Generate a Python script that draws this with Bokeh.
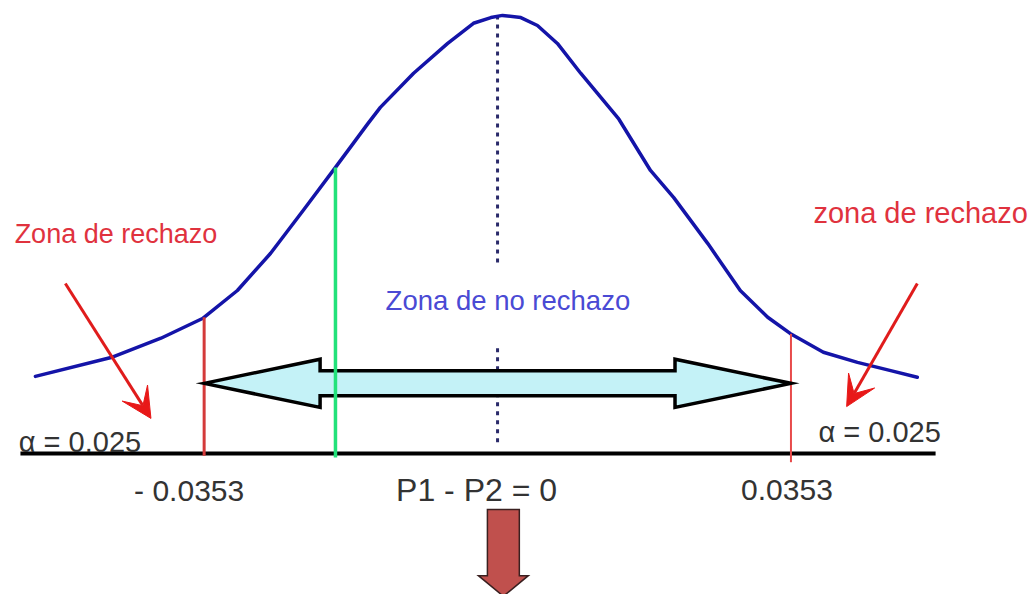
import numpy as np
from bokeh.plotting import figure
from bokeh.models import Range1d, Arrow, VeeHead
from bokeh.core.properties import value
from bokeh.embed import file_html
from bokeh.resources import INLINE

# Sampling distribution of P1 - P2 under H0 (relative height, peak = 1)
curve_x = [-0.0556, -0.0465, -0.0405, -0.0355, -0.0313, -0.0273, -0.0233,
           -0.0195, -0.0156, -0.0141, -0.0101, -0.0060, -0.0029, -0.0008,
           0.0006, 0.0028, 0.0048, 0.0072, 0.0100, 0.0146, 0.0184, 0.0212,
           0.0253, 0.0292, 0.0325, 0.0352, 0.0392, 0.0433, 0.0473, 0.0505]
curve_y = [0.176, 0.219, 0.263, 0.308, 0.372, 0.457, 0.557,
           0.653, 0.753, 0.790, 0.868, 0.936, 0.982, 0.995,
           1.000, 0.995, 0.977, 0.936, 0.868, 0.763, 0.646, 0.584,
           0.479, 0.372, 0.311, 0.274, 0.231, 0.208, 0.189, 0.174]

crit = 0.0353          # critical value of P1 - P2
alpha_tail = 0.025     # area in each rejection tail
observed = -0.0195     # observed difference (green marker)
null_value = 0.0

FONT = value("Liberation Sans")

p = figure(width=1034, height=594, output_backend="svg", toolbar_location=None,
           x_range=Range1d(-0.0598, 0.0646), y_range=Range1d(-0.322, 1.034),
           min_border=0)
p.xaxis.visible = False
p.yaxis.visible = False
p.grid.visible = False
p.outline_line_color = None
p.background_fill_color = "white"
p.border_fill_color = "white"

# centre line of the distribution (dotted), upper and lower pieces
p.line([null_value, null_value], [1.0, 0.436], line_color="#2a2a6a",
       line_width=3, line_dash="4 5")
p.line([null_value, null_value], [0.24, 0.014], line_color="#2a2a6a",
       line_width=3, line_dash="4 5")

# horizontal axis line
p.line([-0.0574, 0.0527], [0, 0], line_color="black", line_width=4)

# density curve
p.line(curve_x, curve_y, line_color="#1414a8", line_width=3.5,
       line_join="round", line_cap="round")

# critical value lines
top_l = float(np.interp(-crit, curve_x, curve_y))
top_r = float(np.interp(crit, curve_x, curve_y))
p.line([-crit, -crit], [top_l, -0.005], line_color="#d43a3a", line_width=3)
p.line([crit, crit], [top_r, -0.02], line_color="#e84a4a", line_width=2)

# double-headed arrow spanning the non-rejection region
ay, head_len, shaft_h, head_h = 0.160, 0.01395, 0.0285, 0.055
ax = [-crit, -crit + head_len, -crit + head_len, crit - head_len, crit - head_len,
      crit, crit - head_len, crit - head_len, -crit + head_len, -crit + head_len]
ayy = [ay, ay + head_h, ay + shaft_h, ay + shaft_h, ay + head_h,
       ay, ay - head_h, ay - shaft_h, ay - shaft_h, ay - head_h]
p.patch(ax, ayy, fill_color="#c4f2f7", line_color="black", line_width=3.5,
        line_join="miter")

# observed value line
top_o = float(np.interp(observed, curve_x, curve_y))
p.line([observed, observed], [top_o, -0.009], line_color="#22e27a", line_width=3.5)

# arrows pointing to the rejection tails
for xs, ys, xe, ye in [(-0.0520, 0.388, -0.0417, 0.080),
                       (0.0505, 0.388, 0.0420, 0.107)]:
    p.add_layout(Arrow(x_start=xs, y_start=ys, x_end=xe, y_end=ye,
                       line_color="#e01c1c", line_width=3,
                       end=VeeHead(size=30, fill_color="#e81818",
                                   line_color="#e81818", line_width=1)))

# labels
p.text([-0.0581], [0.502], text=["Zona de rechazo"], text_font=FONT,
       text_font_size="27px", text_color="#e0323e", text_baseline="alphabetic")
p.text([0.0380], [0.548], text=["zona de rechazo"], text_font=FONT,
       text_font_size="29px", text_color="#e0323e", text_baseline="alphabetic")
p.text([-0.01347], [0.349], text=["Zona de no rechazo"], text_font=FONT,
       text_font_size="27.5px", text_color="#4a4ad4", text_baseline="alphabetic")
p.text([-0.0576], [0.027], text=[f"\u03b1 = {alpha_tail}"], text_font=FONT,
       text_font_size="29px", text_color="#333333", text_baseline="alphabetic")
p.text([0.0386], [0.050], text=[f"\u03b1 = {alpha_tail}"], text_font=FONT,
       text_font_size="29px", text_color="#333333", text_baseline="alphabetic")
p.text([-crit], [-0.0845], text=[f"- {crit}"], text_font=FONT,
       text_font_size="30px", text_color="#333333", text_baseline="alphabetic",
       text_align="center", x_offset=-15)
p.text([crit], [-0.0845], text=[f"{crit}"], text_font=FONT,
       text_font_size="30px", text_color="#333333", text_baseline="alphabetic",
       text_align="center", x_offset=-4)
p.text([null_value], [-0.0845], text=["P1 - P2 = 0"], text_font=FONT,
       text_font_size="32px", text_color="#333333", text_baseline="alphabetic",
       text_align="center", x_offset=-21)

# block arrow pointing down to the conclusion
dx, sw, hw = 0.0007, 0.00192, 0.0030
dtop, dbase, dtip = -0.128, -0.279, -0.326
p.patch([dx - sw, dx + sw, dx + sw, dx + hw, dx, dx - hw, dx - sw],
        [dtop, dtop, dbase, dbase, dtip, dbase, dbase],
        fill_color="#c0504d", line_color="#3a2020", line_width=1.5,
        line_join="miter")

open("out.html", "w").write(file_html(p, INLINE))
